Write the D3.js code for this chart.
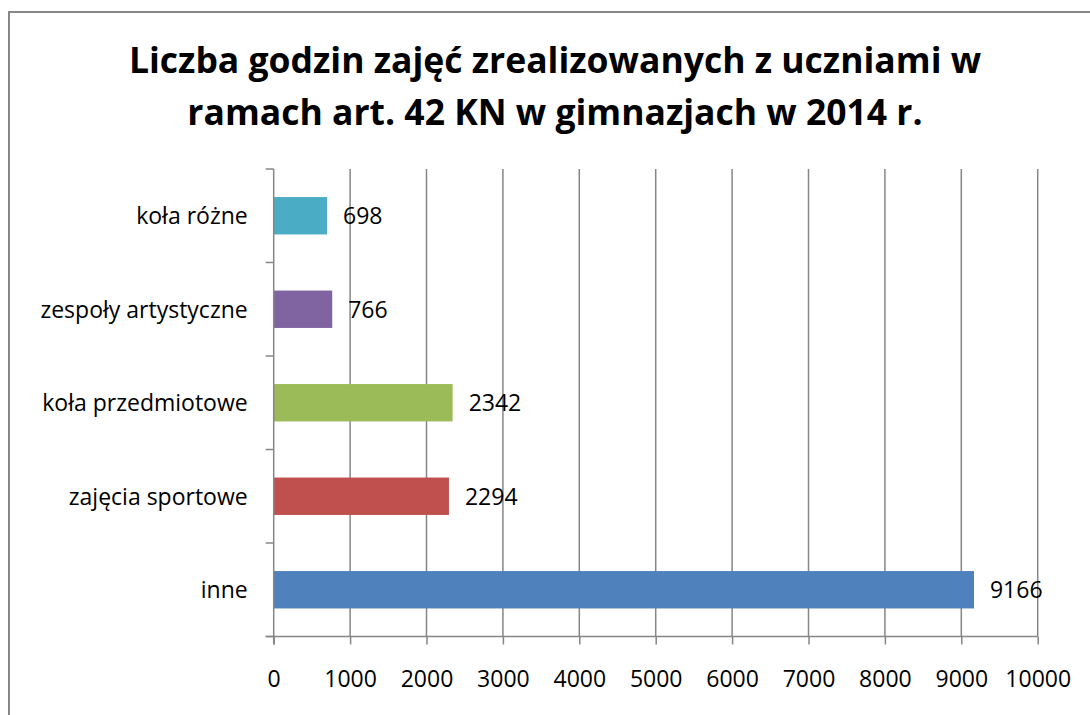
<!DOCTYPE html>
<html>
<head>
<meta charset="utf-8">
<script src="https://cdn.jsdelivr.net/npm/d3@7"></script>
<style>
  html, body { margin: 0; padding: 0; background: #fff; }
  svg { display: block; }
  text { font-family: "Open Sans", sans-serif; fill: #000; }
</style>
</head>
<body>
<svg id="chart" width="1090" height="715"></svg>
<script>
const titleLines = ["Liczba godzin zajęć zrealizowanych z uczniami w", "ramach art. 42 KN w gimnazjach w 2014 r."];
const categories = ["inne", "zajęcia sportowe", "koła przedmiotowe", "zespoły artystyczne", "koła różne"];
const values = [9166, 2294, 2342, 766, 698];
const colors = ["#4F81BD", "#C0504D", "#9BBB59", "#8064A2", "#4BACC6"];
const xTicks = [0, 1000, 2000, 3000, 4000, 5000, 6000, 7000, 8000, 9000, 10000];

(function () {
const svg = d3.select("#chart");
const axisColor = "#868686";

// outer chart border (only top/left visible in frame)
svg.append("rect")
  .attr("x", 9).attr("y", 12)
  .attr("width", 1100).attr("height", 720)
  .attr("fill", "none").attr("stroke", axisColor).attr("stroke-width", 2);

// title
const title = svg.append("text")
  .attr("text-anchor", "middle")
  .attr("font-weight", "bold")
  .attr("font-size", 35.5);
titleLines.forEach((t, i) => {
  title.append("tspan").attr("x", 555).attr("y", 73 + i * 52).text(t);
});

const pL = 273.7, pR = 1037.7, pT = 169, pB = 636.5;

const x = d3.scaleLinear().domain([0, 10000]).range([pL, pR]);
const y = d3.scaleBand().domain(categories.slice().reverse()).range([pT, pB])
  .paddingInner(0.6).paddingOuter(0.3);
const yBand = d3.scaleBand().domain(categories.slice().reverse()).range([pT, pB]);

// gridlines
svg.append("g").selectAll("line")
  .data(xTicks.filter(d => d > 0))
  .join("line")
  .attr("x1", d => x(d)).attr("x2", d => x(d))
  .attr("y1", pT).attr("y2", pB)
  .attr("stroke", axisColor).attr("stroke-width", 1.5);

// bars
svg.append("g").selectAll("rect")
  .data(categories)
  .join("rect")
  .attr("x", x(0))
  .attr("y", d => y(d))
  .attr("width", (d, i) => x(values[i]) - x(0))
  .attr("height", y.bandwidth())
  .attr("fill", (d, i) => colors[i]);

// data labels
svg.append("g").selectAll("text")
  .data(categories)
  .join("text")
  .attr("x", (d, i) => x(values[i]) + 16)
  .attr("y", d => y(d) + y.bandwidth() / 2)
  .attr("dy", "0.36em")
  .attr("font-size", 23)
  .text((d, i) => values[i]);

// x axis
const xAxis = d3.axisBottom(x).tickValues(xTicks).tickSize(8).tickPadding(26).tickFormat(d3.format("d"));
const gx = svg.append("g").attr("transform", `translate(0,${pB})`).call(xAxis);
gx.select(".domain").attr("stroke", axisColor).attr("stroke-width", 1.5)
  .attr("d", `M${pL - 8},0H${pR}`);
gx.selectAll(".tick line").attr("stroke", axisColor).attr("stroke-width", 1.5);
gx.selectAll(".tick text").attr("font-size", 23).attr("font-family", "'Open Sans', sans-serif").attr("fill", "#000");

// y axis
const gy = svg.append("g").attr("transform", `translate(${pL},0)`);
gy.append("line").attr("x1", 0).attr("x2", 0).attr("y1", pT).attr("y2", pB + 8)
  .attr("stroke", axisColor).attr("stroke-width", 1.5);
const boundaries = yBand.domain().map(d => yBand(d)).concat([pB]);
gy.selectAll("line.tk").data(boundaries).join("line").attr("class", "tk")
  .attr("x1", -8).attr("x2", 0).attr("y1", d => d).attr("y2", d => d)
  .attr("stroke", axisColor).attr("stroke-width", 1.5);
gy.selectAll("text").data(categories).join("text")
  .attr("x", -26)
  .attr("y", d => yBand(d) + yBand.bandwidth() / 2)
  .attr("dy", "0.36em")
  .attr("text-anchor", "end")
  .attr("font-size", 23)
  .text(d => d);
})();
</script>
</body>
</html>
